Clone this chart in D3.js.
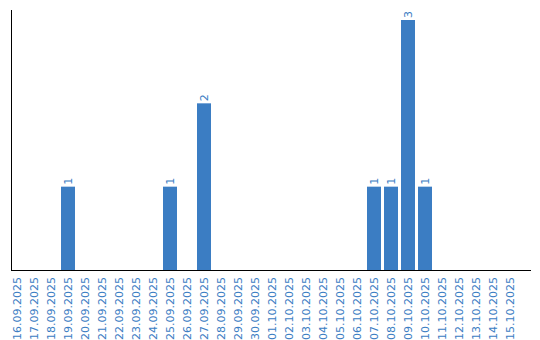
<!DOCTYPE html>
<html lang="en">
<head>
  <meta charset="UTF-8" />
  <title>Daily count</title>
  <style>
    html, body { margin: 0; padding: 0; background: #fff; overflow: hidden; }
    svg { display: block; font-family: "DejaVu Sans", Verdana, sans-serif; }
    .lbl { fill: #3b7dc3; font-size: 11px; }
    .bar { fill: #3b7dc3; }
  </style>
</head>
<body>
  <svg width="540" height="340"></svg>
  <script src="https://d3js.org/d3.v7.min.js"></script>
  <script>
    const dates = [
      "16.09.2025", "17.09.2025", "18.09.2025", "19.09.2025", "20.09.2025",
      "21.09.2025", "22.09.2025", "23.09.2025", "24.09.2025", "25.09.2025",
      "26.09.2025", "27.09.2025", "28.09.2025", "29.09.2025", "30.09.2025",
      "01.10.2025", "02.10.2025", "03.10.2025", "04.10.2025", "05.10.2025",
      "06.10.2025", "07.10.2025", "08.10.2025", "09.10.2025", "10.10.2025",
      "11.10.2025", "12.10.2025", "13.10.2025", "14.10.2025", "15.10.2025"
    ];
    const counts = [0, 0, 0, 1, 0, 0, 0, 0, 0, 1, 0, 2, 0, 0, 0,
                    0, 0, 0, 0, 0, 0, 1, 1, 3, 1, 0, 0, 0, 0, 0];

    const data = dates.map((d, i) => ({ date: d, value: counts[i] }));

    const svg = d3.select("svg");
    const axisX0 = 11, axisX1 = 531, baseY = 270, topY = 10;

    const x = d3.scaleBand()
      .domain(dates)
      .range([8.5, 8.5 + 17 * dates.length])
      .paddingInner(3 / 17)
      .paddingOuter(1.5 / 17);

    const y = d3.scaleLinear()
      .domain([0, d3.max(counts) * 1.04])
      .range([baseY, topY]);

    const shown = data.filter(d => d.value > 0);

    svg.selectAll(".bar")
      .data(shown)
      .join("rect")
      .attr("class", "bar")
      .attr("x", d => x(d.date))
      .attr("width", x.bandwidth())
      .attr("y", d => y(d.value))
      .attr("height", d => y(0) - y(d.value));

    svg.selectAll(".val")
      .data(shown)
      .join("text")
      .attr("class", "lbl val")
      .attr("transform", d => `translate(${x(d.date) + x.bandwidth() / 2},${y(d.value) - 2}) rotate(-90)`)
      .attr("dy", "0.35em")
      .attr("text-anchor", "start")
      .text(d => d.value);

    // axis lines
    svg.append("line")
      .attr("x1", axisX0 + 0.5).attr("x2", axisX0 + 0.5)
      .attr("y1", topY).attr("y2", baseY)
      .attr("stroke", "#000");
    svg.append("line")
      .attr("x1", axisX0).attr("x2", axisX1)
      .attr("y1", baseY + 0.5).attr("y2", baseY + 0.5)
      .attr("stroke", "#000");

    svg.selectAll(".tick")
      .data(dates)
      .join("text")
      .attr("class", "lbl tick")
      .attr("transform", d => `translate(${x(d) + x.bandwidth() / 2},${baseY + 7}) rotate(-90)`)
      .attr("dy", "0.35em")
      .attr("text-anchor", "end")
      .text(d => d);
  </script>
</body>
</html>
